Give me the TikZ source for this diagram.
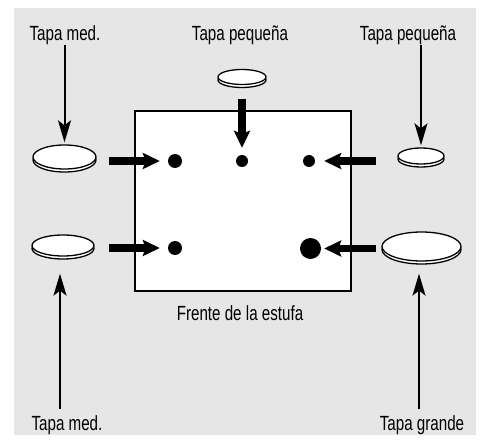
\documentclass[tikz,border=0pt]{standalone}
\usepackage{fontspec}
\setmainfont{Liberation Sans}[FakeStretch=0.74]
\usetikzlibrary{arrows.meta,shapes.geometric,shadows}
\definecolor{bggray}{HTML}{E6E6E6}
\begin{document}
\begin{tikzpicture}[x=1pt,y=-1pt,
  lid/.style={ellipse,draw=black,fill=white,line width=1.3pt,inner sep=0pt,
    copy shadow={shadow xshift=0pt,shadow yshift=-3pt}},
  dot/.style={circle,fill=black,inner sep=0pt},
  lbl/.style={inner sep=0pt,font=\fontsize{20.5}{24}\selectfont},
  bigarr/.style={line width=7.5pt,-{Stealth[length=17pt,width=16pt,inset=3pt]}},
  thinarr/.style={line width=2pt,-{Stealth[length=22pt,width=13pt,inset=5pt]}}]
\useasboundingbox (0,0) rectangle (484,443);
\fill[bggray] (14,8) rectangle (476,435);
% stove front
\node[draw=black,fill=white,line width=2.6pt,minimum width=216pt,minimum height=180pt,inner sep=0pt] (stove) at (243,201) {};
% labels
\node[lbl,anchor=base] (lblTL) at (65,41) {Tapa med.};
\node[lbl,anchor=base] (lblTM) at (240,41) {Tapa pequeña};
\node[lbl,anchor=base] (lblTR) at (408,41) {Tapa pequeña};
\node[lbl,anchor=base] (lblBL) at (67,430) {Tapa med.};
\node[lbl,anchor=base] (lblBR) at (422,430) {Tapa grande};
\node[lbl,anchor=base] (lblFront) at (240,320) {Frente de la estufa};
% lids
\node[lid,minimum width=48pt,minimum height=15pt] (lidTM) at (242,77) {};
\node[lid,minimum width=63pt,minimum height=24pt] (lidUL) at (64.5,157) {};
\node[lid,minimum width=46pt,minimum height=16pt] (lidUR) at (421,156) {};
\node[lid,minimum width=62pt,minimum height=21pt] (lidLL) at (63,245.5) {};
\node[lid,minimum width=79pt,minimum height=29pt] (lidLR) at (421.5,246.5) {};
% burners
\node[dot,minimum size=12pt] (dTM) at (242,161) {};
\node[dot,minimum size=14pt] (dUL) at (175,161) {};
\node[dot,minimum size=12pt] (dUR) at (309,161) {};
\node[dot,minimum size=14pt] (dLL) at (175,248) {};
\node[dot,minimum size=21pt] (dLR) at (310.5,248.5) {};
% thick arrows
\draw[bigarr,shorten <=13.5pt,shorten >=7pt] (lidTM.south) -- (dTM.north);
\draw[bigarr,shorten <=12pt,shorten >=8pt] (lidUL.east |- dUL) -- (dUL.west);
\draw[bigarr,shorten <=21pt,shorten >=9pt] (lidUR.west |- dUR) -- (dUR.east);
\draw[bigarr,shorten <=14pt,shorten >=8pt] (lidLL.east |- dLL) -- (dLL.west);
\draw[bigarr,shorten <=5pt,shorten >=3pt] (lidLR.west |- dLR) -- (dLR.east);
% thin arrows
\coordinate (tBL) at ([xshift=-3pt]lidLL.south);
\coordinate (tBR) at ([xshift=-2.5pt]lidLR.south);
\draw[thinarr,shorten >=2pt] (lblTL.south -| lidUL.north) -- (lidUL.north);
\draw[thinarr,shorten >=2pt] (lblTR.south -| lidUR.north) -- (lidUR.north);
\draw[thinarr,shorten <=6pt,shorten >=17pt] (lblBL.north -| tBL) -- (tBL);
\draw[thinarr,shorten <=6pt,shorten >=12pt] (lblBR.north -| tBR) -- (tBR);
\end{tikzpicture}
\end{document}
